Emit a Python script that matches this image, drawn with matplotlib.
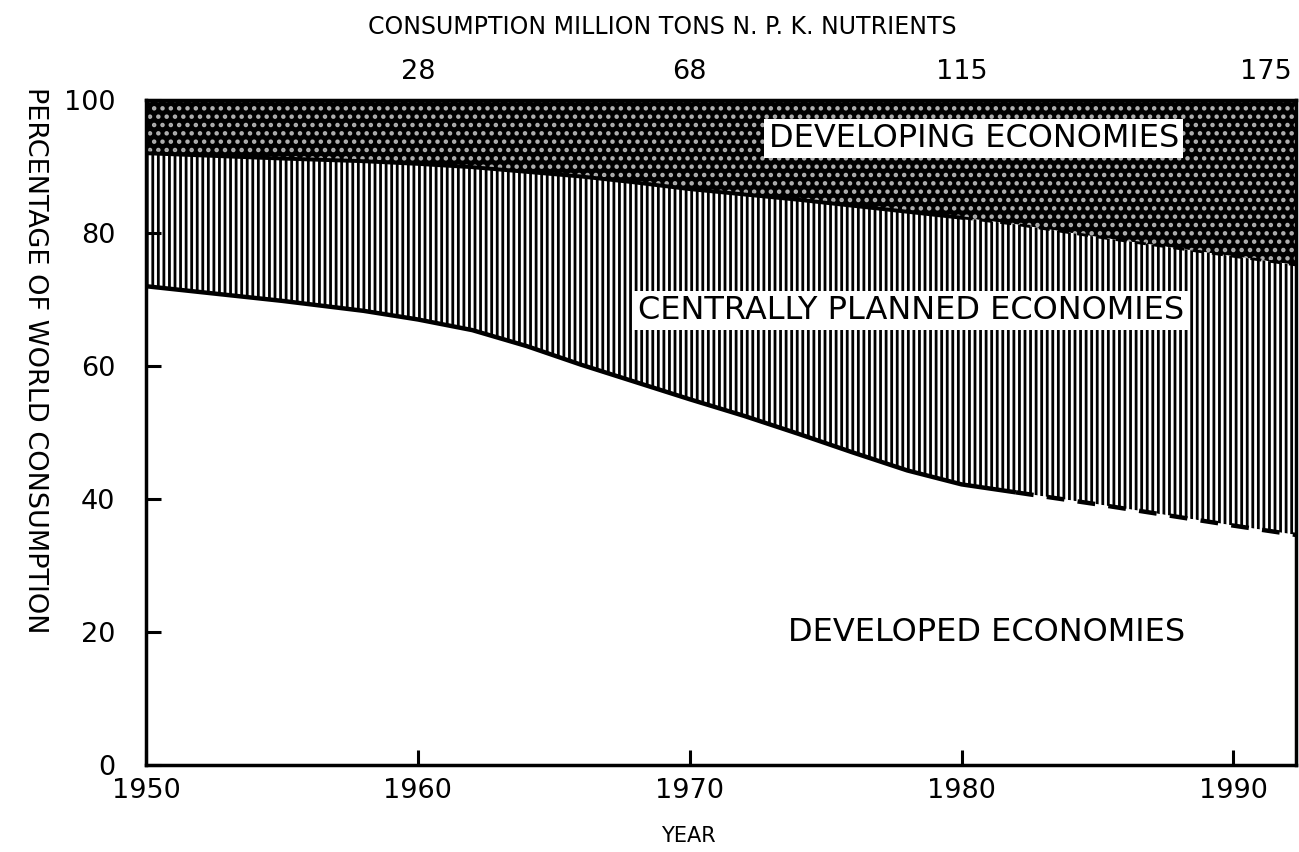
import matplotlib
matplotlib.use("Agg")
import matplotlib.pyplot as plt

plt.rcParams['font.family'] = ['DejaVu Sans']
plt.rcParams['hatch.linewidth'] = 2.0

# ---- data ----
years = [1950, 1955, 1958, 1960, 1962, 1964, 1966, 1968, 1970, 1972, 1974, 1976, 1978,
         1980, 1982, 1985, 1990, 1992.3]
developed = [72, 69.8, 68.3, 67, 65.4, 63, 60.2, 57.6, 55, 52.5, 49.8, 47, 44.3,
             42.2, 41, 39.2, 36, 34.6]
developed_plus_cpe = [92, 91.2, 90.8, 90.4, 89.9, 89.2, 88.5, 87.6, 86.6, 85.8, 85, 84.1, 83.2,
                      82.3, 81.3, 79.4, 76.5, 75.2]
solid_end_lower = 1982
solid_end_upper = 1980

x_ticks = [1950, 1960, 1970, 1980, 1990]
y_ticks = [0, 20, 40, 60, 80, 100]
top_tick_years = [1960, 1970, 1980, 1991.2]
top_tick_labels = ['28', '68', '115', '175']

# ---- figure ----
fig = plt.figure(figsize=(12.99, 8.52), dpi=100)
ax = fig.add_axes([0.1124, 0.1021, 0.8853, 0.7805])

top = [100] * len(years)
zero = [0] * len(years)

# developing economies (dark, speckled)
ax.fill_between(years, developed_plus_cpe, top, facecolor='black',
                edgecolor='#b0b0b0', hatch='..', linewidth=0)
# centrally planned economies (vertical hatching)
ax.fill_between(years, developed, developed_plus_cpe, facecolor='white',
                edgecolor='black', hatch='|||', linewidth=0)
# developed economies (white)
ax.fill_between(years, zero, developed, facecolor='white', linewidth=0)

# boundary lines: solid for history, dashed for projection
lo_solid = [(y, v) for y, v in zip(years, developed) if y <= solid_end_lower]
lo_dash = [(y, v) for y, v in zip(years, developed) if y >= solid_end_lower]
up_solid = [(y, v) for y, v in zip(years, developed_plus_cpe) if y <= solid_end_upper]
up_dash = [(y, v) for y, v in zip(years, developed_plus_cpe) if y >= solid_end_upper]

ax.plot(*zip(*lo_solid), color='black', lw=3.2, solid_capstyle='butt')
ax.plot(*zip(*lo_dash), color='black', lw=3.2, dashes=(4, 3))
ax.plot(*zip(*up_solid), color='black', lw=2.8)
ax.plot(*zip(*up_dash), color='black', lw=2.0, dashes=(4, 3))

ax.set_xlim(1950, 1992.3)
ax.set_ylim(0, 100)

for s in ax.spines.values():
    s.set_linewidth(2.5)

ax.set_xticks(x_ticks)
ax.set_yticks(y_ticks)
ax.tick_params(axis='both', direction='in', length=11, width=2.2, labelsize=19.5)
ax.tick_params(axis='x', pad=9)
ax.tick_params(axis='y', pad=22)

# top axis: consumption in million tons
secax = ax.secondary_xaxis('top')
secax.set_xticks(top_tick_years)
secax.set_xticklabels(top_tick_labels)
secax.tick_params(axis='x', length=0, labelsize=19.5, pad=11)
secax.spines['top'].set_visible(False)

fig.text(662 / 1299, 1 - 27 / 852, 'CONSUMPTION MILLION TONS N. P. K. NUTRIENTS',
         ha='center', va='center', fontsize=17)
fig.text(688 / 1299, 1 - 836 / 852, 'YEAR', ha='center', va='center', fontsize=15)
fig.text(35 / 1299, 1 - 360 / 852, 'PERCENTAGE OF WORLD CONSUMPTION',
         ha='center', va='center', rotation=-90, fontsize=19.5)

box = dict(facecolor='white', edgecolor='none', pad=3)
ax.text(1972.9, 94.2, 'DEVELOPING ECONOMIES', ha='left', va='center',
        fontsize=23, bbox=box)
ax.text(1968.1, 68.4, 'CENTRALLY PLANNED ECONOMIES', ha='left', va='center',
        fontsize=23, bbox=box)
ax.text(1973.6, 20, 'DEVELOPED ECONOMIES', ha='left', va='center',
        fontsize=23, bbox=box)

fig.savefig('out.png', dpi=100)
